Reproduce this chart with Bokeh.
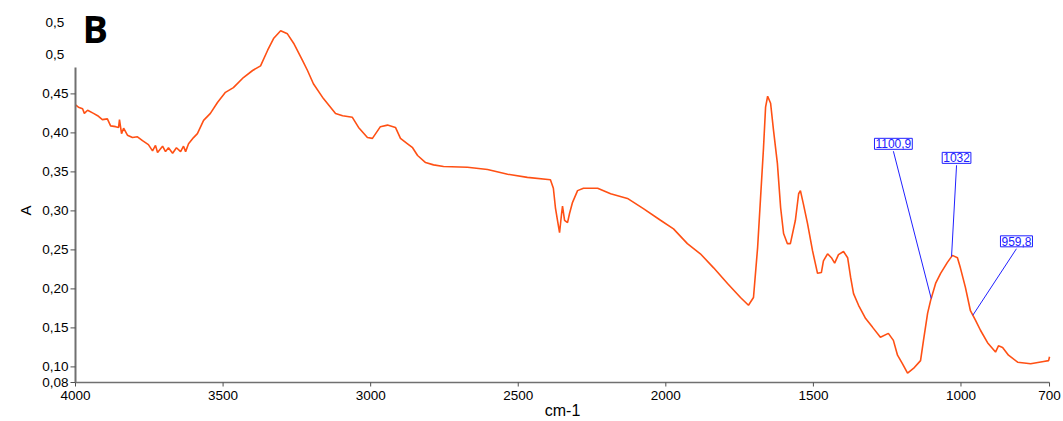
import numpy as np
from bokeh.plotting import figure
from bokeh.models import Range1d, Label
from bokeh.core.properties import value
from bokeh.embed import file_html
from bokeh.resources import INLINE

# ---------------- data ----------------
wavenumber = [4000, 3990, 3976, 3970, 3959, 3939, 3925, 3909, 3892, 3881, 3864, 3854, 3851, 3844,
              3837, 3824, 3807, 3790, 3773, 3753, 3739, 3729, 3722, 3705, 3695, 3685, 3671, 3658,
              3644, 3634, 3627, 3617, 3600, 3587, 3566, 3543, 3519, 3492, 3465, 3431, 3400, 3373,
              3349, 3329, 3305, 3282, 3261, 3231, 3214, 3194, 3160, 3119, 3095, 3062, 3041, 3011,
              2994, 2967, 2943, 2916, 2899, 2875, 2858, 2841, 2814, 2787, 2753, 2672, 2604, 2536,
              2469, 2391, 2381, 2374, 2367, 2360, 2353, 2350, 2343, 2333, 2326, 2316, 2299, 2279,
              2231, 2187, 2130, 2076, 2018, 1974, 1927, 1883, 1838, 1791, 1747, 1720, 1703, 1689,
              1679, 1669, 1662, 1655, 1645, 1635, 1622, 1611, 1601, 1588, 1578, 1561, 1550, 1544,
              1534, 1520, 1503, 1486, 1473, 1466, 1452, 1439, 1428, 1415, 1398, 1384, 1374, 1364,
              1347, 1323, 1300, 1273, 1246, 1229, 1215, 1198, 1181, 1161, 1137, 1127, 1113, 1103,
              1086, 1069, 1046, 1029, 1012, 1002, 985, 968, 951, 934, 910, 883, 873, 859, 839, 808,
              764, 720, 703, 700]
absorbance = [0.436, 0.433, 0.431, 0.425, 0.429, 0.425, 0.422, 0.417, 0.418, 0.409, 0.408, 0.407,
              0.417, 0.399, 0.406, 0.397, 0.394, 0.395, 0.390, 0.385, 0.377, 0.384, 0.375, 0.383,
              0.376, 0.381, 0.374, 0.381, 0.376, 0.383, 0.376, 0.386, 0.394, 0.399, 0.416, 0.425,
              0.439, 0.452, 0.458, 0.471, 0.480, 0.486, 0.506, 0.521, 0.531, 0.527, 0.515, 0.493,
              0.480, 0.463, 0.444, 0.425, 0.422, 0.420, 0.407, 0.394, 0.393, 0.408, 0.410, 0.407,
              0.393, 0.386, 0.381, 0.371, 0.362, 0.359, 0.357, 0.356, 0.353, 0.347, 0.343, 0.340,
              0.329, 0.304, 0.288, 0.272, 0.297, 0.306, 0.288, 0.285, 0.297, 0.311, 0.326, 0.329,
              0.329, 0.322, 0.316, 0.303, 0.288, 0.277, 0.258, 0.245, 0.227, 0.207, 0.189, 0.179,
              0.189, 0.253, 0.317, 0.381, 0.433, 0.447, 0.438, 0.403, 0.361, 0.304, 0.271, 0.258,
              0.258, 0.288, 0.322, 0.326, 0.309, 0.284, 0.249, 0.220, 0.221, 0.236, 0.245, 0.240,
              0.233, 0.244, 0.248, 0.240, 0.215, 0.194, 0.179, 0.162, 0.151, 0.138, 0.143, 0.134,
              0.115, 0.104, 0.092, 0.098, 0.108, 0.134, 0.169, 0.185, 0.207, 0.220, 0.234, 0.243,
              0.240, 0.227, 0.202, 0.172, 0.160, 0.147, 0.131, 0.119, 0.127, 0.125, 0.115, 0.106,
              0.104, 0.107, 0.108, 0.113]

x_ticks = [4000, 3500, 3000, 2500, 2000, 1500, 1000, 700]
x_tick_labels = ["4000", "3500", "3000", "2500", "2000", "1500", "1000", "700"]
y_ticks = [0.08, 0.10, 0.15, 0.20, 0.25, 0.30, 0.35, 0.40, 0.45]
y_tick_labels = ["0,08", "0,10", "0,15", "0,20", "0,25", "0,30", "0,35", "0,40", "0,45"]
y_extra_ticks = [0.50, 0.5415]
y_extra_labels = ["0,5", "0,5"]
y_axis_top = 0.484
x_title = "cm-1"
y_title = "A"
panel_letter = "B"

peak_wn = [1100.9, 1032.0, 959.8]
peak_labels = ["1100,9", "1032", "959,8"]
# label box centres (wavenumber, absorbance)
label_wn = [1229, 1015, 812]
label_abs = [0.386, 0.368, 0.261]

# ---------------- figure ----------------
FONT = "Liberation Sans"
W, H = 1063, 421
PX_X = 3.388        # wavenumber units per pixel
PX_Y = 1.0 / 780.0  # absorbance units per pixel
X0, X1 = 4000.0, 700.0
Y0 = 0.08

# the frame covers the whole canvas; axes are drawn as glyphs
x_start = X0 + 75 * PX_X
x_end = x_start - W * PX_X
y_end = Y0 + 382 * PX_Y
y_start = y_end - H * PX_Y

p = figure(width=W, height=H, output_backend="svg", toolbar_location=None,
           x_range=Range1d(x_start, x_end), y_range=Range1d(y_start, y_end),
           x_axis_location=None, y_axis_location=None,
           min_border_left=0, min_border_right=0, min_border_top=0, min_border_bottom=0)
p.outline_line_color = None
p.grid.visible = False

wn = np.array(wavenumber, dtype=float)
ab = np.array(absorbance, dtype=float)
p.line(wn, ab, line_color="#ff5014", line_width=1.6)

AXIS = "#707070"
TICK = "#505050"

# ---- x axis ----
p.segment(x0=[X0], y0=[Y0], x1=[X1], y1=[Y0], line_color=AXIS, line_width=1.5)
p.segment(x0=x_ticks, y0=[Y0] * len(x_ticks), x1=x_ticks, y1=[Y0 - 4 * PX_Y] * len(x_ticks),
          line_color=TICK, line_width=1)
p.text(x=x_ticks, y=[Y0 - 8 * PX_Y] * len(x_ticks), text=x_tick_labels,
       text_align="center", text_baseline="top", text_font=value(FONT),
       text_font_size="13.5px", text_color="black")
p.text(x=[(X0 + X1) / 2], y=[Y0 - 28 * PX_Y], text=[x_title],
       text_align="center", text_baseline="middle", text_font=value(FONT),
       text_font_size="16px", text_color="black")

# ---- y axis ----
p.segment(x0=[X0], y0=[Y0], x1=[X0], y1=[y_axis_top], line_color=AXIS, line_width=2)
p.segment(x0=[X0] * len(y_ticks), y0=y_ticks, x1=[X0 + 5 * PX_X] * len(y_ticks), y1=y_ticks,
          line_color=TICK, line_width=1)
p.text(x=[X0 + 7 * PX_X] * len(y_ticks), y=y_ticks, text=y_tick_labels,
       text_align="right", text_baseline="middle", text_font=value(FONT),
       text_font_size="13.5px", text_color="black")
p.text(x=[X0 + 30 * PX_X] * len(y_extra_ticks), y=y_extra_ticks, text=y_extra_labels,
       text_align="left", text_baseline="middle", text_font=value(FONT),
       text_font_size="13.5px", text_color="black")
p.text(x=[X0 + 50 * PX_X], y=[Y0 + 172 * PX_Y], text=[y_title], angle=np.pi / 2,
       text_align="center", text_baseline="middle", text_font=value(FONT),
       text_font_size="15px", text_color="black")

# ---- panel letter ----
p.add_layout(Label(x=3976, y=0.534, text=panel_letter, text_align="left", text_baseline="middle",
                   text_font="Open Sans", text_font_style="bold", text_font_size="38px",
                   text_color="black"))

# ---- peak annotations ----
peak_abs = np.interp(peak_wn, wn[::-1], ab[::-1])
box_half = 0.0095
p.segment(x0=label_wn, y0=[v - box_half for v in label_abs], x1=peak_wn, y1=list(peak_abs),
          line_color="#2020ff", line_width=1)
for lx, ly, txt in zip(label_wn, label_abs, peak_labels):
    p.add_layout(Label(x=lx, y=ly, text=txt, text_align="center", text_baseline="middle",
                       text_font=FONT, text_font_size="12px", text_color="#2020ff",
                       border_line_color="#2020ff", border_line_width=1,
                       background_fill_color="white", padding=1))

open("out.html", "w").write(file_html(p, INLINE))
